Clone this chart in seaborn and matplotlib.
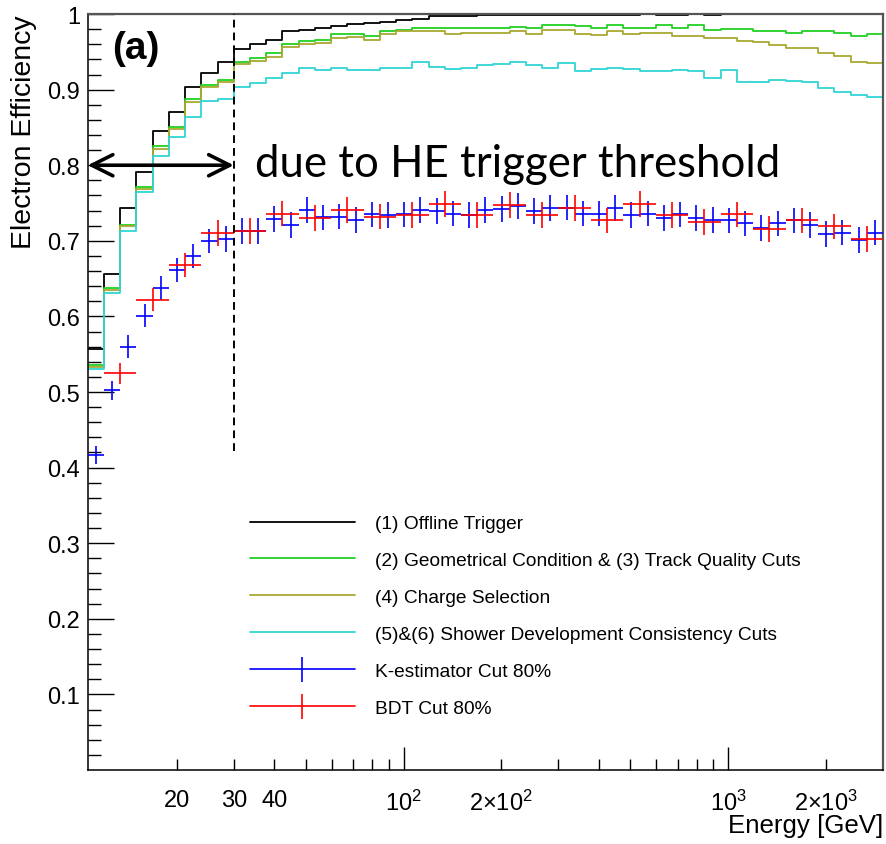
import numpy as np
import pandas as pd
import matplotlib
matplotlib.use("Agg")
import matplotlib.pyplot as plt
import seaborn as sns
from matplotlib.lines import Line2D
from matplotlib.legend_handler import HandlerTuple

# ---------------- data ----------------
n_bins = 49
log_bin_width = 0.05
e_max = 3000.0

offline_trigger = [0.557, 0.656, 0.743, 0.791, 0.845, 0.870, 0.904, 0.922, 0.936,
                   0.954, 0.960, 0.966, 0.977, 0.979, 0.981, 0.984, 0.987, 0.988, 0.990,
                   0.992, 0.994, 0.997, 0.997, 0.997,
                   0.9985, 0.9985, 0.9985, 0.9985, 0.9985, 0.9985, 0.9985, 0.9985, 0.9985, 0.9985,
                   1.0, 0.9985, 0.9985, 1.0, 0.9985,
                   1.0, 1.0, 1.0, 1.0, 1.0, 1.0, 1.0, 1.0, 1.0, 1.0]
geom_track = [0.536, 0.637, 0.721, 0.771, 0.826, 0.850, 0.887, 0.906, 0.913,
              0.937, 0.942, 0.948, 0.961, 0.964, 0.966, 0.973, 0.974, 0.971, 0.978,
              0.979, 0.981, 0.981, 0.981, 0.982, 0.982, 0.981, 0.983, 0.981, 0.986,
              0.986, 0.984, 0.982, 0.986, 0.982, 0.982, 0.985, 0.982, 0.985, 0.979,
              0.980, 0.980, 0.977, 0.978, 0.975, 0.978, 0.978, 0.975, 0.971, 0.974]
charge_sel = [0.5335, 0.635, 0.720, 0.7685, 0.822, 0.848, 0.883, 0.904, 0.910,
              0.934, 0.938, 0.943, 0.957, 0.960, 0.962, 0.968, 0.970, 0.966, 0.974,
              0.978, 0.978, 0.977, 0.974, 0.975, 0.975, 0.975, 0.977, 0.974, 0.979,
              0.979, 0.974, 0.972, 0.977, 0.974, 0.975, 0.975, 0.971, 0.971, 0.968,
              0.968, 0.964, 0.963, 0.959, 0.955, 0.955, 0.948, 0.944, 0.937, 0.935]
shower_cons = [0.530, 0.631, 0.7125, 0.765, 0.812, 0.838, 0.864, 0.885, 0.888,
               0.904, 0.909, 0.915, 0.922, 0.929, 0.926, 0.929, 0.926, 0.926, 0.929,
               0.929, 0.937, 0.930, 0.927, 0.929, 0.932, 0.934, 0.937, 0.932, 0.929,
               0.935, 0.924, 0.927, 0.929, 0.927, 0.925, 0.925, 0.926, 0.925, 0.915,
               0.926, 0.9105, 0.9105, 0.913, 0.912, 0.910, 0.9025, 0.897, 0.893, 0.890]

kest_eff = [0.417, 0.502, 0.560, 0.601, 0.638, 0.661, 0.680, 0.700, 0.702, 0.713,
            0.713, 0.729, 0.721, 0.741, 0.731, 0.732, 0.728, 0.735, 0.734, 0.735,
            0.741, 0.739, 0.736, 0.734, 0.741, 0.742, 0.746, 0.739, 0.743, 0.744,
            0.736, 0.736, 0.743, 0.734, 0.736, 0.730, 0.735, 0.730, 0.728, 0.727,
            0.723, 0.717, 0.723, 0.727, 0.721, 0.709, 0.711, 0.701, 0.711]
kest_err = [0.012, 0.013, 0.015, 0.015, 0.016, 0.016, 0.016, 0.016, 0.017, 0.017,
            0.017, 0.017, 0.017, 0.017, 0.017, 0.017, 0.017, 0.017, 0.017, 0.017,
            0.017, 0.017, 0.017, 0.017, 0.017, 0.017, 0.017, 0.017, 0.017, 0.017,
            0.017, 0.017, 0.017, 0.017, 0.017, 0.017, 0.017, 0.017, 0.017, 0.017,
            0.017, 0.017, 0.017, 0.017, 0.017, 0.017, 0.017, 0.017, 0.017]
bdt_eff = [0.525, 0.622, 0.668, 0.710, 0.713, 0.736, 0.730, 0.741, 0.732, 0.734,
           0.749, 0.734, 0.747, 0.734, 0.743, 0.727, 0.749, 0.734, 0.725, 0.735,
           0.716, 0.727, 0.719, 0.702]
bdt_err = [0.014, 0.015, 0.016, 0.017, 0.017, 0.017, 0.017, 0.017, 0.017, 0.017,
           0.017, 0.017, 0.017, 0.017, 0.017, 0.017, 0.017, 0.017, 0.017, 0.017,
           0.017, 0.017, 0.017, 0.017]

labels = ["(1) Offline Trigger",
          "(2) Geometrical Condition & (3) Track Quality Cuts",
          "(4) Charge Selection",
          "(5)&(6) Shower Development Consistency Cuts",
          "K-estimator Cut 80%",
          "BDT Cut 80%"]
line_colors = ["#000000", "#22d022", "#a8a830", "#30d4d4"]
kest_color = "#0000ff"
bdt_color = "#ff0000"

trigger_threshold = 30.0
threshold_line_bottom = 0.422
arrow_y = 0.8

x_major = [100, 1000]
x_major_labels = ["10$^{2}$", "10$^{3}$"]
x_minor = [20, 30, 40, 50, 60, 70, 80, 90, 200, 300, 400, 500, 600, 700, 800, 900, 2000]
x_minor_labels = ["20", "30", "40", "", "", "", "", "", "2×10$^{2}$",
                  "", "", "", "", "", "", "", "2×10$^{3}$"]
y_major = [0.1, 0.2, 0.3, 0.4, 0.5, 0.6, 0.7, 0.8, 0.9, 1.0]
y_major_labels = ["0.1", "0.2", "0.3", "0.4", "0.5", "0.6", "0.7", "0.8", "0.9", "1"]

# ---------------- style ----------------
sns.set_theme(style="ticks")
plt.rcParams["font.family"] = ["Liberation Sans", "DejaVu Sans"]
plt.rcParams["mathtext.fontset"] = "custom"
plt.rcParams["mathtext.rm"] = "Liberation Sans"
plt.rcParams["mathtext.it"] = "Liberation Sans:italic"
plt.rcParams["mathtext.bf"] = "Liberation Sans:bold"
plt.rcParams["mathtext.default"] = "regular"
for key in ["text.color", "axes.labelcolor", "xtick.color", "ytick.color"]:
    plt.rcParams[key] = "black"

edges = 10 ** (np.log10(e_max) - log_bin_width * np.arange(n_bins, -1, -1))
centers = np.sqrt(edges[:-1] * edges[1:])
bdt_edges = edges[1::2]
bdt_centers = np.sqrt(bdt_edges[:-1] * bdt_edges[1:])

fig = plt.figure(figsize=(8.87, 8.45), dpi=100)
ax = fig.add_axes([0.0989, 0.0876, 0.8966, 0.8946])

series = [offline_trigger, geom_track, charge_sel, shower_cons]
for vals, col in zip(series, line_colors):
    df = pd.DataFrame({"E": edges, "eff": np.append(vals, vals[-1])})
    sns.lineplot(data=df, x="E", y="eff", drawstyle="steps-post", color=col,
                 lw=1.3, estimator=None, sort=False, ax=ax)

ax.errorbar(centers, kest_eff, yerr=kest_err,
            xerr=[centers - edges[:-1], edges[1:] - centers],
            fmt="none", ecolor=kest_color, elinewidth=1.2, capsize=0, zorder=4)
ax.errorbar(bdt_centers, bdt_eff, yerr=bdt_err,
            xerr=[bdt_centers - bdt_edges[:-1], bdt_edges[1:] - bdt_centers],
            fmt="none", ecolor=bdt_color, elinewidth=1.2, capsize=0, zorder=5)

ax.set_xscale("log")
ax.set_xlim(edges[0], edges[-1])
ax.set_ylim(0.0, 1.0)

# threshold annotation
ax.plot([trigger_threshold, trigger_threshold], [threshold_line_bottom, 1.0],
        color="black", lw=1.4, ls=(0, (4, 2.6)), zorder=6)
ax.annotate("", xy=(edges[0], arrow_y), xytext=(trigger_threshold, arrow_y),
            arrowprops=dict(arrowstyle="<->", lw=2.6, color="black",
                            mutation_scale=38, shrinkA=0, shrinkB=0), zorder=7)
ax.text(0.2104, 0.7857, "due to HE trigger threshold", transform=ax.transAxes,
        fontsize=31.5, family=["Lato", "DejaVu Sans"], ha="left", va="baseline",
        color="black")
ax.text(0.0306, 0.955, "(a)", transform=ax.transAxes, fontsize=28,
        fontweight="bold", ha="left", va="center")

# axes / ticks
ax.set_xticks(x_major, labels=x_major_labels)
ax.set_xticks(x_minor, labels=x_minor_labels, minor=True)
ax.set_yticks(y_major, labels=y_major_labels)
ax.set_yticks(np.arange(0.02, 1.0, 0.02), minor=True)
ax.tick_params(axis="both", which="both", direction="in", colors="black",
               width=1.0, labelsize=17, top=False, right=False)
ax.tick_params(axis="y", which="major", length=18.7, pad=5.5)
ax.tick_params(axis="y", which="minor", length=9.4)
ax.tick_params(axis="x", which="major", length=16.5, pad=14)
ax.tick_params(axis="x", which="minor", length=8, pad=14)
for side in ["left", "bottom"]:
    ax.spines[side].set_color("black")
    ax.spines[side].set_linewidth(1.1)
for side in ["top", "right"]:
    ax.spines[side].set_color("#555555")
    ax.spines[side].set_linewidth(1.6)

ax.set_xlabel("Energy [GeV]", fontsize=18.6, loc="right")
ax.xaxis.set_label_coords(1.0, -0.0569)
ax.set_ylabel("Electron Efficiency", fontsize=20.5, loc="top")
ax.yaxis.set_label_coords(-0.064, 1.0)

# legend
handles = [Line2D([], [], color=c, lw=1.3) for c in line_colors]
for col in [kest_color, bdt_color]:
    handles.append((Line2D([], [], color=col, lw=1.2),
                    Line2D([], [], color=col, ls="none", marker="|",
                           markersize=18, markeredgewidth=1.2)))
ax.legend(handles, labels, loc="upper left", bbox_to_anchor=(0.204, 0.3374),
          frameon=False, fontsize=13.75, handlelength=5.5, handletextpad=1.05,
          labelspacing=1.02, borderpad=0, borderaxespad=0, numpoints=1,
          handler_map={tuple: HandlerTuple(ndivide=1)})

fig.savefig("out.png", dpi=100, facecolor="white")
